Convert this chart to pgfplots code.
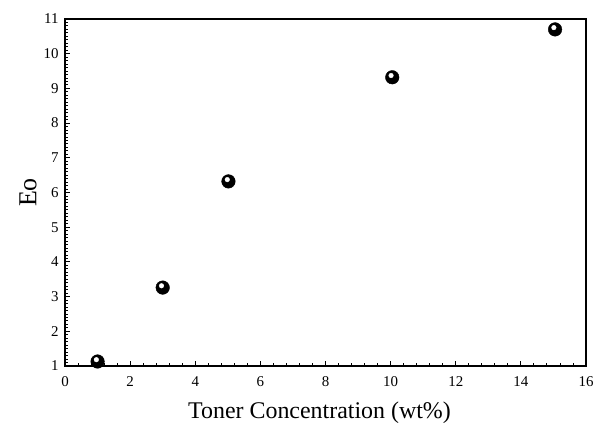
\documentclass[border=0pt]{standalone}
\usepackage{pgfplots}
\pgfplotsset{compat=1.18}
\usepackage{fontspec}
\setmainfont{Liberation Serif}
\begin{document}
\begin{tikzpicture}
\useasboundingbox (-65bp,-60bp) rectangle (528bp,366bp);
\begin{axis}[
  scale only axis,
  width=521bp, height=347bp,
  xmin=0, xmax=16, ymin=1, ymax=11,
  xtick={0,2,...,16}, ytick={1,2,...,11},
  minor x tick num=4, minor y tick num=9,
  tick align=inside,
  xtick pos=bottom, ytick pos=left,
  major tick length=5bp, minor tick length=3bp,
  tick style={black, line width=0.9pt},
  axis line style={line width=1.2pt},
  /pgf/number format/assume math mode=true,
  tick label style={font=\fontsize{15}{17}\selectfont},
  xticklabel style={yshift=-7bp},
  yticklabel style={xshift=-3bp},
  xlabel={Toner Concentration (wt\%)},
  ylabel={Eo},
  xlabel style={font=\fontsize{24}{28}\selectfont, yshift=-8bp, xshift=-6bp},
  ylabel style={font=\fontsize{26}{30}\selectfont, yshift=0bp},
  clip=false,
]
\addplot[only marks, mark=*, mark size=6.8bp, mark options={fill=black, draw=black}]
  coordinates {(1,1.13) (3,3.26) (5.02,6.32) (10.05,9.32) (15.05,10.70)};
\addplot[only marks, mark=*, mark size=2.3bp, mark options={fill=white, draw=white, xshift=-1.2bp, yshift=1.8bp}]
  coordinates {(1,1.13) (3,3.26) (5.02,6.32) (10.05,9.32) (15.05,10.70)};
\end{axis}
\end{tikzpicture}
\end{document}
